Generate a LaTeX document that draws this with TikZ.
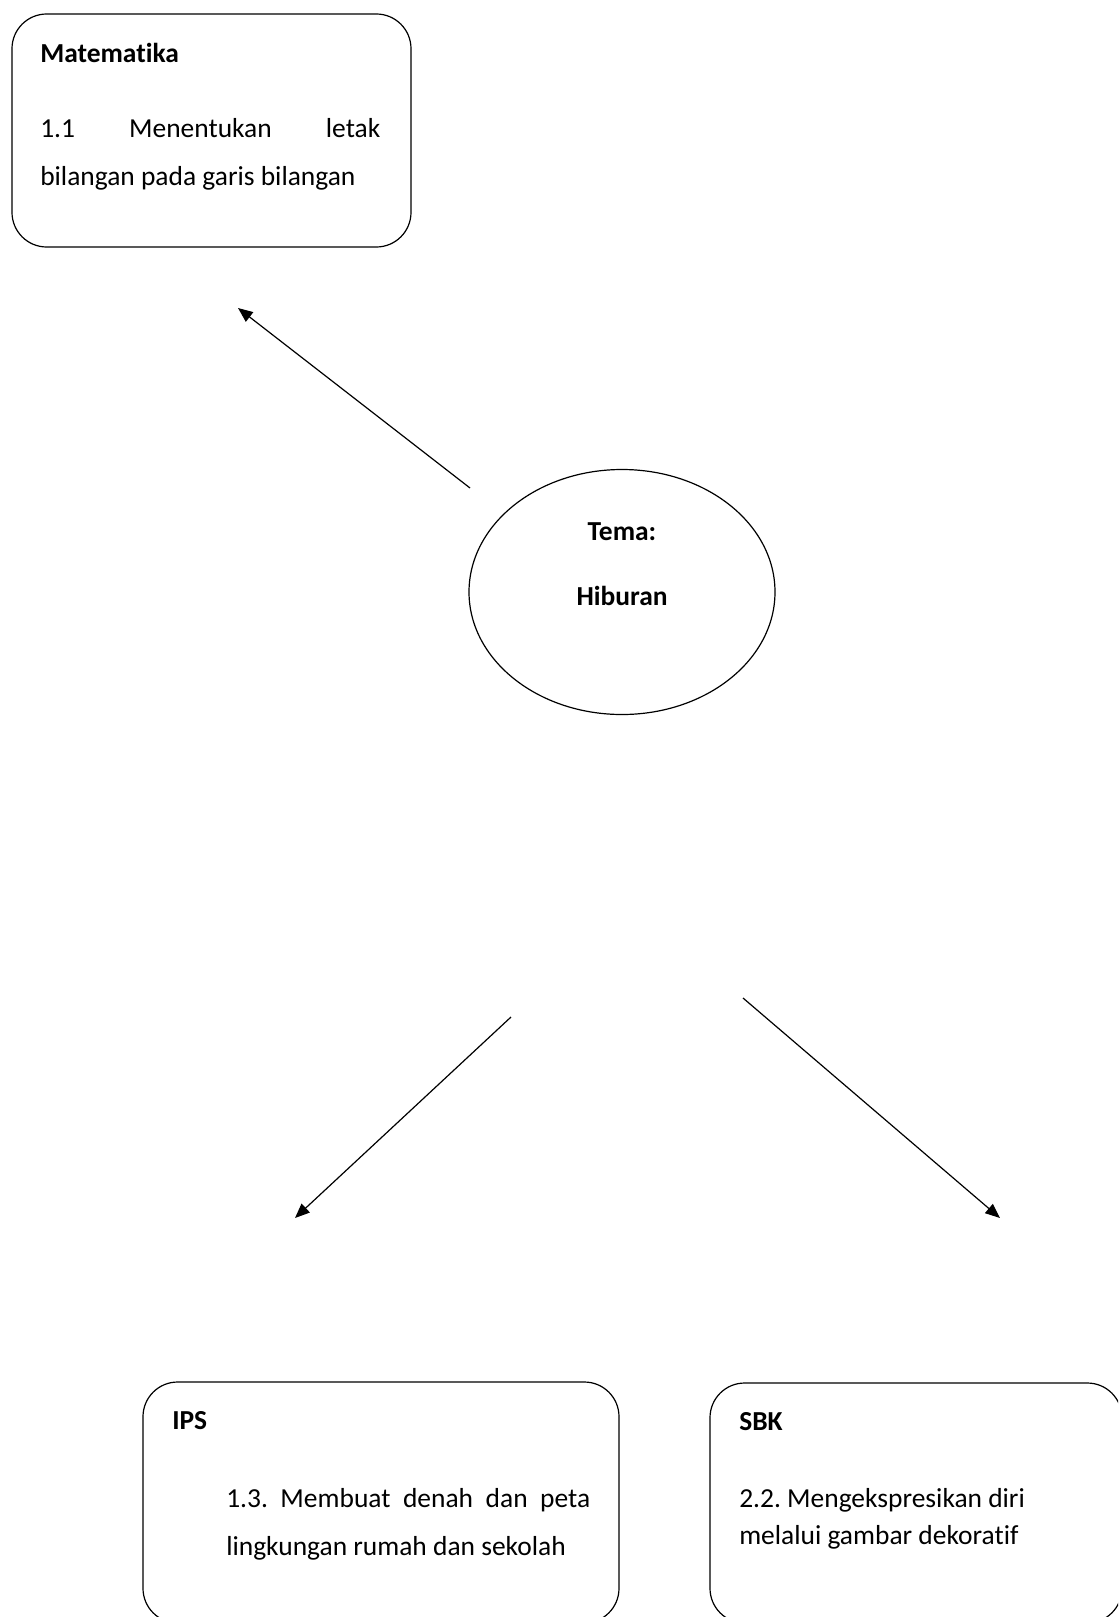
\documentclass[tikz,border=0pt]{standalone}
\usepackage{fontspec}
\setmainfont{Carlito}[Ligatures={NoCommon}]
\usetikzlibrary{arrows.meta,shapes.geometric}
\frenchspacing
\begin{document}
\begin{tikzpicture}[x=0.75pt,y=-0.75pt,
  box/.style={draw,line width=0.9pt,rounded corners=26pt,inner sep=0pt},
  oval/.style={draw,line width=0.9pt,ellipse,inner sep=0pt,minimum width=229.5pt,minimum height=183.75pt},
  txt/.style={inner sep=0pt,anchor=base west,font=\fontsize{20.6}{25}\selectfont},
  ttl/.style={txt,font=\fontsize{20.6}{25}\selectfont\bfseries},
  arr/.style={line width=0.9pt,-{Triangle[length=11pt,width=9pt]}}]
\useasboundingbox (0,0) rectangle (1118,1617);
\clip (0,0) rectangle (1118,1617);
\fill[white] (0,0) rectangle (1118,1617);
% boxes
\node[box,minimum width=299.25pt,minimum height=174.75pt] (mat) at (211.5,130.5) {};
\node[box,minimum width=357pt,minimum height=180.75pt] (ips) at (381,1502.5) {};
\node[box,minimum width=309pt,minimum height=180pt] (sbk) at (916,1503) {};
\node[oval] (tema) at (622,592) {};
% texts
\node[ttl] (matT) at (40,62) {Matematika};
\node[txt] (mat1) at (40,137) {\makebox[255pt][s]{1.1\hspace{0pt plus 1fil} Menentukan\hspace{0pt plus 1fil} letak}};
\node[txt] (mat2) at (40,185) {bilangan pada garis bilangan};
\node[ttl,anchor=base] (temaT) at (622,540) {Tema:};
\node[ttl,anchor=base] (temaH) at (622,605) {Hiburan};
\node[ttl] (ipsT) at (172,1429) {IPS};
\node[txt] (ips1) at (226,1507) {\makebox[273pt][s]{1.3. Membuat denah dan peta}};
\node[txt] (ips2) at (226,1555) {lingkungan rumah dan sekolah};
\node[ttl] (sbkT) at (739,1430) {SBK};
\node[txt] (sbk1) at (739,1507) {2.2. Mengekspresikan diri};
\node[txt] (sbk2) at (739,1544) {melalui gambar dekoratif};
% arrow ends
\coordinate (a1s) at (470,488);
\coordinate (a1e) at (238,308);
\coordinate (a2s) at (511,1017);
\coordinate (a2e) at (295,1218);
\coordinate (a3s) at (743,998);
\coordinate (a3e) at (1000,1218);
\draw[arr] (a1s) -- (a1e);
\draw[arr] (a2s) -- (a2e);
\draw[arr] (a3s) -- (a3e);
\end{tikzpicture}
\end{document}
